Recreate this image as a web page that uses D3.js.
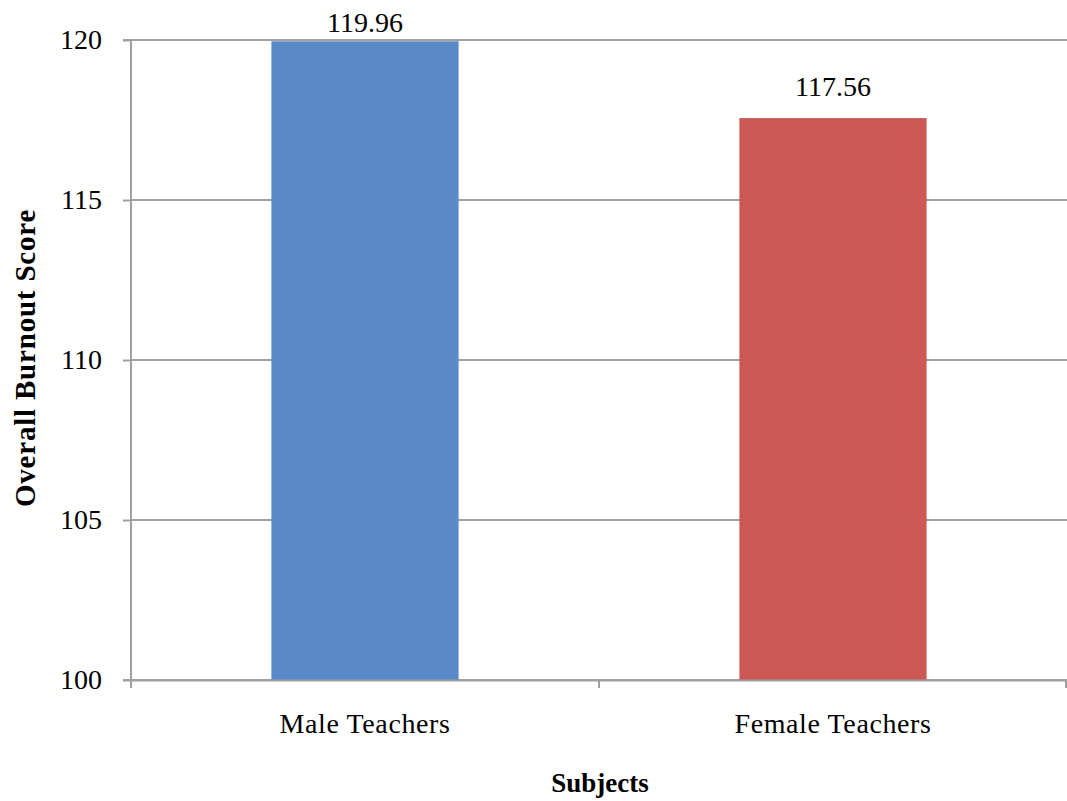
<!DOCTYPE html>
<html><head><meta charset="utf-8">
<script src="https://cdn.jsdelivr.net/npm/d3@7"></script>
<style>body{margin:0;background:#fff}svg{display:block}</style>
</head><body>
<svg id="c" width="1067" height="801"></svg>
<script>
const categories = ["Male Teachers", "Female Teachers"];
const values = [119.96, 117.56];
const colors = ["#5989c7", "#cc5855"];
const yTicks = [100, 105, 110, 115, 120];

const svg = d3.select("#c");
const m = {left: 131, right: 1067, top: 40, bottom: 680};
const font = "'Liberation Serif', 'Times New Roman', serif";

const x = d3.scaleBand().domain(categories).range([m.left, m.right]).paddingInner(0.6).paddingOuter(0.3);
const y = d3.scaleLinear().domain([100, 120]).range([m.bottom, m.top]);

// gridlines
svg.append("g").selectAll("line").data(yTicks).join("line")
  .attr("x1", m.left).attr("x2", m.right)
  .attr("y1", d => y(d)).attr("y2", d => y(d))
  .attr("stroke", "#a0a0a0").attr("stroke-width", 2);

// bars
svg.append("g").selectAll("rect").data(values).join("rect")
  .attr("x", (d, i) => x(categories[i]))
  .attr("width", x.bandwidth())
  .attr("y", d => y(d))
  .attr("height", d => y(100) - y(d))
  .attr("fill", (d, i) => colors[i]);

// y axis
const ya = svg.append("g").attr("transform", `translate(${m.left},0)`)
  .call(d3.axisLeft(y).tickValues(yTicks).tickSize(8).tickPadding(21).tickFormat(d3.format("d")));
ya.select(".domain").attr("stroke", "#a0a0a0").attr("stroke-width", 2).attr("d", `M-8,${m.top}H0V${m.bottom}H-8`);
ya.selectAll(".tick line").attr("stroke", "#a0a0a0").attr("stroke-width", 2);
ya.selectAll(".tick text").attr("font-family", font).attr("font-size", 28).attr("fill", "#000");

// x axis
const xa = svg.append("g").attr("transform", `translate(0,${m.bottom})`)
  .call(d3.axisBottom(x).tickSize(0).tickPadding(33));
xa.select(".domain").attr("stroke", "#a0a0a0").attr("stroke-width", 2);
xa.selectAll(".tick text").attr("font-family", font).attr("font-size", 28).attr("letter-spacing", 0.6).attr("fill", "#000");
const bounds = [m.left, (m.left + m.right) / 2, m.right - 1];
xa.selectAll(".sep").data(bounds).join("line").attr("class", "sep")
  .attr("x1", d => d).attr("x2", d => d).attr("y1", 0).attr("y2", 8)
  .attr("stroke", "#a0a0a0").attr("stroke-width", 2);

// value labels (kept inside the chart area at the top)
svg.append("g").selectAll("text").data(values).join("text")
  .attr("x", (d, i) => x(categories[i]) + x.bandwidth() / 2)
  .attr("y", d => Math.max(y(d) - 22, 32))
  .attr("text-anchor", "middle").attr("font-family", font).attr("font-size", 28)
  .text(d => d.toFixed(2));

// axis titles
svg.append("text").attr("x", 600).attr("y", 792)
  .attr("text-anchor", "middle").attr("font-family", font).attr("font-size", 27).attr("font-weight", "bold")
  .text("Subjects");
svg.append("text").attr("transform", `translate(35,358) rotate(-90)`)
  .attr("text-anchor", "middle").attr("font-family", font).attr("font-size", 29).attr("font-weight", "bold")
  .attr("letter-spacing", 0.8)
  .text("Overall Burnout Score");
</script>
</body></html>
